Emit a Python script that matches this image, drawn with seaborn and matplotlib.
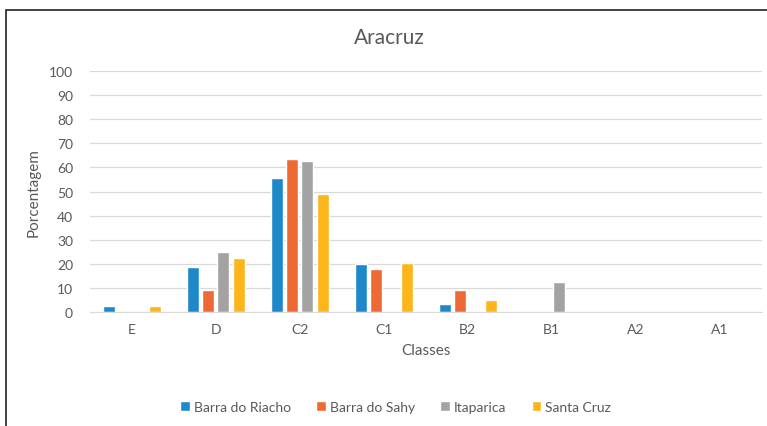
import pandas as pd
import matplotlib.pyplot as plt
import seaborn as sns
from matplotlib.patches import Rectangle

# Data
classes = ['E', 'D', 'C2', 'C1', 'B2', 'B1', 'A2', 'A1']
barra_do_riacho = [2.5, 18.5, 55.5, 20, 3.5, 0, 0, 0]
barra_do_sahy = [0, 9, 63.5, 18, 9, 0, 0, 0]
itaparica = [0, 25, 62.5, 0, 0, 12.5, 0, 0]
santa_cruz = [2.5, 22.5, 49, 20.5, 5, 0, 0, 0]
series_names = ['Barra do Riacho', 'Barra do Sahy', 'Itaparica', 'Santa Cruz']
colors = ['#1F88C9', '#EE6A34', '#A3A3A3', '#FDB51C']

rows = []
for name, vals in zip(series_names, [barra_do_riacho, barra_do_sahy, itaparica, santa_cruz]):
    for c, v in zip(classes, vals):
        rows.append({'Classes': c, 'Porcentagem': v, 'Serie': name})
df = pd.DataFrame(rows)

sns.set_style("white")
plt.rcParams['font.family'] = ['Lato', 'DejaVu Sans']
text_color = '#595959'

fig = plt.figure(figsize=(7.67, 4.27), dpi=100)
ax = fig.add_axes([0.117, 0.267, 0.876, 0.564])

sns.barplot(data=df, x='Classes', y='Porcentagem', hue='Serie', order=classes,
            hue_order=series_names, palette=colors, width=0.73, gap=0.23,
            saturation=1, ax=ax, legend=True)

ax.set_ylim(0, 100)
ax.set_yticks(range(0, 101, 10))
ax.set_xlim(-0.5, 7.5)
ax.yaxis.grid(True, color='#D9D9D9', linewidth=0.9)
ax.set_axisbelow(True)
for s in ['top', 'right', 'left']:
    ax.spines[s].set_visible(False)
ax.spines['bottom'].set_color('#D9D9D9')
ax.tick_params(axis='y', length=0, labelsize=10, colors=text_color, pad=12)
ax.tick_params(axis='x', length=0, labelsize=10, colors=text_color, pad=8)
ax.set_xlabel('Classes', fontsize=11, color=text_color, labelpad=6)
ax.set_ylabel('Porcentagem', fontsize=11, color=text_color, labelpad=6)

fig.text(0.508, 0.91, 'Aracruz', ha='center', va='center', fontsize=15, color=text_color)

handles, labels = ax.get_legend_handles_labels()
ax.get_legend().remove()
fig.legend(handles, labels, loc='center', bbox_to_anchor=(0.516, 0.044), ncol=4,
           frameon=False, fontsize=10, labelcolor=text_color, handlelength=0.7,
           handleheight=0.7, handletextpad=0.3, columnspacing=1.8)

# outer frame (clipped on the right and bottom like the reference)
fig.patches.append(Rectangle((6 / 767, -0.05), 1.1, 1 - 11 / 427 + 0.05,
                             transform=fig.transFigure, fill=False,
                             edgecolor='#222222', linewidth=1.2))

plt.savefig('out.png', dpi=100)
